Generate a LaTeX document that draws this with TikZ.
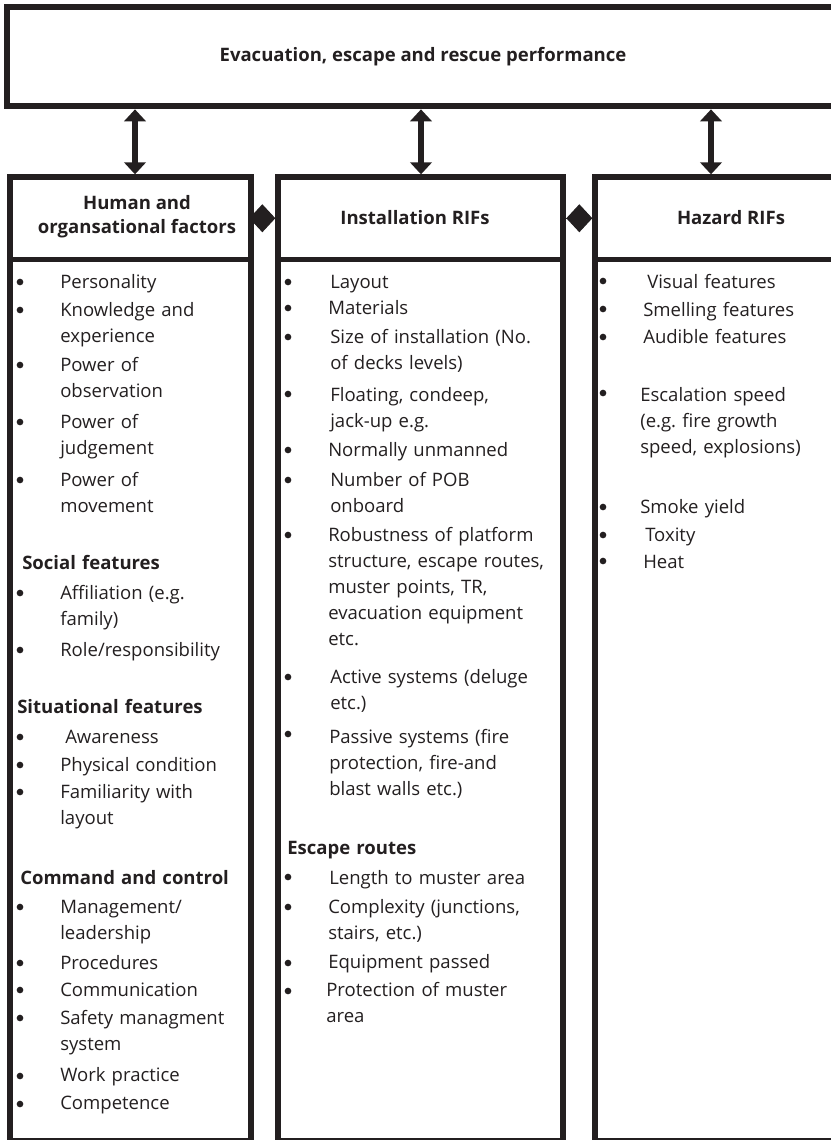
\documentclass[tikz,border=0pt]{standalone}
\usepackage{fontspec}
\setmainfont{Open Sans}
\usetikzlibrary{arrows.meta, positioning, fit}
\definecolor{ink}{HTML}{231F20}

\begin{document}
\begin{tikzpicture}[x=0.75pt, y=-0.75pt,
  colbox/.style={draw=ink, line width=4pt, inner sep=0pt},
  heading/.style={font=\fontsize{13.9}{18}\selectfont\bfseries, text=ink, align=center, inner sep=0pt},
  entry/.style={font=\fontsize{13.9}{19.5}\selectfont, text=ink, anchor=base west, text width=180pt, align=left, inner sep=0pt},
  grouphead/.style={entry, font=\fontsize{13.9}{19.5}\selectfont\bfseries},
  dot/.style={circle, fill=ink, inner sep=0pt, minimum size=5pt},
  twoway/.style={ink, line width=4.5pt, {Triangle[length=9pt, width=16pt]}-{Triangle[length=9pt, width=16pt]}},
  joint/.style={ink, line width=0.8pt, -{Diamond[length=19.5pt, width=21pt]}}]

\useasboundingbox (0,0) rectangle (831,1140);
\clip (0,0) rectangle (831,1140);

% Top box
\node[colbox, line width=5pt, fit={(7,7) (839,106)}] (perf) {};
\node[heading] (perftext) at (423,57) {Evacuation, escape and rescue performance};

% Column boxes
\node[colbox, fit={(10,177) (251,259.5)}] (humhead) {};
\node[colbox, fit={(10,259.5) (251,1141)}] (humbody) {};
\node[colbox, fit={(278,177) (563,259.5)}] (inshead) {};
\node[colbox, fit={(278,259.5) (563,1141)}] (insbody) {};
\node[colbox, fit={(595,177) (836,259.5)}] (hazhead) {};
\node[colbox, fit={(595,259.5) (836,1141)}] (hazbody) {};

\node[heading] (humlabel) at (137,217) {Human and\\organsational factors};
\node[heading] (inslabel) at (415,218) {Installation RIFs};
\node[heading] (hazlabel) at (731,218) {Hazard RIFs};

% Arrows to the top box
\coordinate (a1) at (135,0);
\coordinate (a2) at (421,0);
\coordinate (a3) at (711,0);
\draw[twoway] (perf.south -| a1) -- (humhead.north -| a1);
\draw[twoway] (perf.south -| a2) -- (inshead.north -| a2);
\draw[twoway] (perf.south -| a3) -- (hazhead.north -| a3);

% Diamond joints
\draw[joint] (humhead.east) -- (inshead.west);
\draw[joint] (inshead.east) -- (hazhead.west);

% Human and organisational factors
\node[dot] (hd1) at (20,282) {};
\node[entry] (h1) at (60,288) {Personality};
\node[dot] (hd2) at (20,310) {};
\node[entry] (h2) at (60,316) {Knowledge and\\experience};
\node[dot] (hd3) at (20,365) {};
\node[entry] (h3) at (60,371) {Power of\\observation};
\node[dot] (hd4) at (20,422) {};
\node[entry] (h4) at (60,428) {Power of\\judgement};
\node[dot] (hd5) at (20,480) {};
\node[entry] (h5) at (60,486) {Power of\\movement};

\node[grouphead] (hsoc) at (22,569) {Social features};
\node[dot] (hd6) at (20,593) {};
\node[entry] (h6) at (60,599) {Affiliation (e.g.\\family)};
\node[dot] (hd7) at (20,650) {};
\node[entry] (h7) at (60,656) {Role/responsibility};

\node[grouphead] (hsit) at (17,713) {Situational features};
\node[dot] (hd8) at (20,737) {};
\node[entry] (h8) at (65,743) {Awareness};
\node[dot] (hd9) at (20,765) {};
\node[entry] (h9) at (60,771) {Physical condition};
\node[dot] (hd10) at (20,792) {};
\node[entry] (h10) at (60,798) {Familiarity with\\layout};

\node[grouphead] (hcmd) at (20,884) {Command and control};
\node[dot] (hd11) at (20,907) {};
\node[entry] (h11) at (60,913) {Management/\\leadership};
\node[dot] (hd12) at (20,963) {};
\node[entry] (h12) at (60,969) {Procedures};
\node[dot] (hd13) at (20,990) {};
\node[entry] (h13) at (60,996) {Communication};
\node[dot] (hd14) at (20,1018) {};
\node[entry] (h14) at (60,1024) {Safety managment\\system};
\node[dot] (hd15) at (20,1076) {};
\node[entry] (h15) at (60,1081) {Work practice};
\node[dot] (hd16) at (20,1104) {};
\node[entry] (h16) at (60,1109) {Competence};

% Installation RIFs
\node[dot] (id1) at (288,282) {};
\node[entry] (i1) at (330,288) {Layout};
\node[dot] (id2) at (288,308) {};
\node[entry] (i2) at (328,314) {Materials};
\node[dot] (id3) at (288,337) {};
\node[entry] (i3) at (330,343) {Size of installation (No.\\of decks levels)};
\node[dot] (id4) at (288,394) {};
\node[entry] (i4) at (330,401) {Floating, condeep,\\jack-up e.g.};
\node[dot] (id5) at (288,450) {};
\node[entry] (i5) at (328,456) {Normally unmanned};
\node[dot] (id6) at (288,480) {};
\node[entry] (i6) at (330,486) {Number of POB\\onboard};
\node[dot] (id7) at (288,535) {};
\node[entry] (i7) at (328,541) {Robustness of platform\\structure, escape routes,\\muster points, TR,\\evacuation equipment\\etc.};
\node[dot] (id8) at (288,677) {};
\node[entry] (i8) at (330,683) {Active systems (deluge\\etc.)};
\node[dot] (id9) at (288,734) {};
\node[entry] (i9) at (329,743) {Passive systems (fire\\protection, fire-and\\blast walls etc.)};

\node[grouphead] (iesc) at (287,854) {Escape routes};
\node[dot] (id10) at (288,877) {};
\node[entry] (i10) at (329,884) {Length to muster area};
\node[dot] (id11) at (288,907) {};
\node[entry] (i11) at (328,913) {Complexity (junctions,\\stairs, etc.)};
\node[dot] (id12) at (288,963) {};
\node[entry] (i12) at (328,968) {Equipment passed};
\node[dot] (id13) at (288,991) {};
\node[entry] (i13) at (326,996) {Protection of muster\\area};

% Hazard RIFs
\node[dot] (zd1) at (603,281) {};
\node[entry] (z1) at (647,288) {Visual features};
\node[dot] (zd2) at (603,309) {};
\node[entry] (z2) at (643,316) {Smelling features};
\node[dot] (zd3) at (603,337) {};
\node[entry] (z3) at (643,343) {Audible features};
\node[dot] (zd4) at (603,393) {};
\node[entry] (z4) at (640,401) {Escalation speed\\(e.g.\ fire growth\\speed, explosions)};
\node[dot] (zd5) at (603,507) {};
\node[entry] (z5) at (640,513) {Smoke yield};
\node[dot] (zd6) at (603,535) {};
\node[entry] (z6) at (645,541) {Toxity};
\node[dot] (zd7) at (603,561) {};
\node[entry] (z7) at (643,568) {Heat};

\end{tikzpicture}
\end{document}
